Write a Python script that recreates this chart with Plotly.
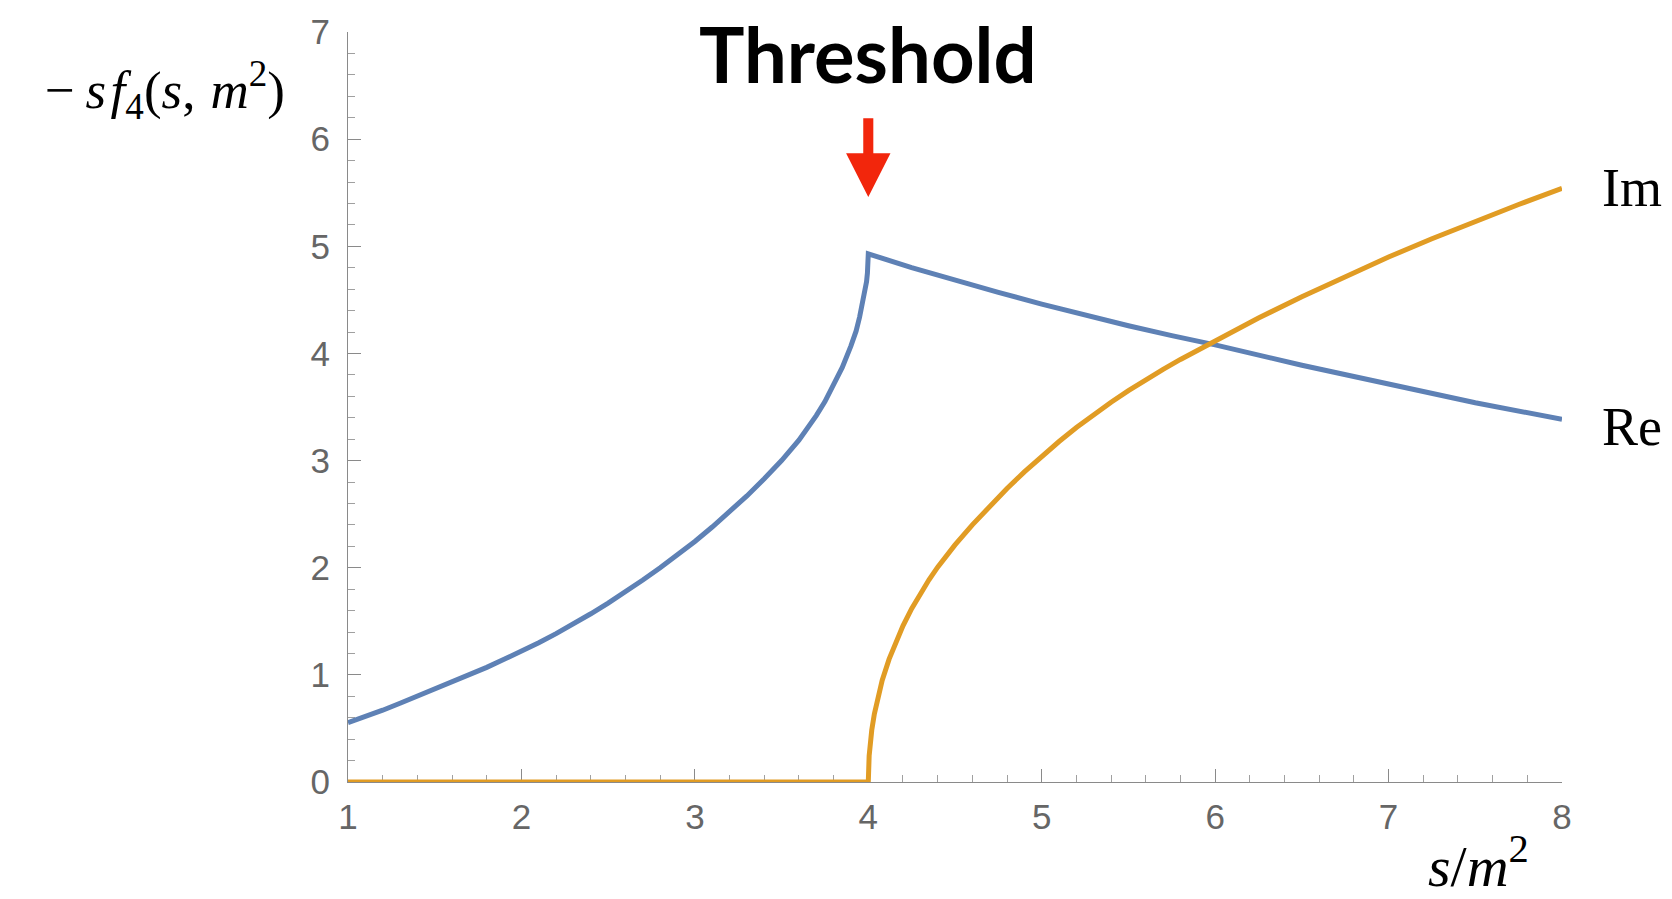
import plotly.graph_objects as go

# Threshold position (s/m^2) and curve samples
threshold_s = 4.0

re_s = [1.0, 1.1, 1.2, 1.3, 1.4, 1.5, 1.6, 1.7, 1.8, 1.9, 2.0, 2.1, 2.2, 2.3,
        2.4, 2.5, 2.6, 2.7, 2.8, 2.9, 3.0, 3.1, 3.2, 3.3, 3.4, 3.5, 3.6, 3.65,
        3.7, 3.75, 3.8, 3.85, 3.9, 3.93, 3.95, 3.97, 3.98, 3.99, 3.995, 3.999,
        4.0, 4.25, 4.5, 4.75, 5.0, 5.25, 5.5, 5.75, 6.0, 6.5, 7.0, 7.5, 8.0]
re_vals = [0.555, 0.61, 0.67, 0.735, 0.80, 0.865, 0.93, 1.0, 1.07, 1.145, 1.22,
           1.30, 1.385, 1.475, 1.57, 1.67, 1.775, 1.885, 2.00, 2.12, 2.245,
           2.38, 2.52, 2.67, 2.83, 3.00, 3.19, 3.30, 3.42, 3.55, 3.70, 3.87,
           4.07, 4.21, 4.34, 4.48, 4.56, 4.67, 4.75, 4.84,
           4.93, 4.80, 4.68, 4.57, 4.46, 4.357, 4.258, 4.166, 4.08, 3.89, 3.71,
           3.54, 3.385]

im_s = [1.0, 4.0, 4.005, 4.01, 4.02, 4.035, 4.05, 4.08, 4.12, 4.16, 4.2, 4.25,
        4.3, 4.35, 4.4, 4.45, 4.5, 4.6, 4.7, 4.8, 4.9, 5.0, 5.1, 5.2, 5.3, 5.4,
        5.5, 5.6, 5.7, 5.8, 5.9, 6.0, 6.25, 6.5, 6.75, 7.0, 7.25, 7.5, 7.75, 8.0]
im_vals = [0.0, 0.0, 0.244, 0.344, 0.484, 0.636, 0.758, 0.947, 1.147, 1.312,
           1.458, 1.618, 1.758, 1.887, 2.005, 2.113, 2.213, 2.40, 2.575, 2.74,
           2.895, 3.04, 3.178, 3.308, 3.43, 3.545, 3.653, 3.755, 3.852, 3.944,
           4.032, 4.12, 4.33, 4.53, 4.72, 4.90, 5.07, 5.235, 5.39, 5.54]

x_ticks = [1, 2, 3, 4, 5, 6, 7, 8]
y_ticks = [0, 1, 2, 3, 4, 5, 6, 7]

BLUE = "#5E81B5"
ORANGE = "#E19C24"
RED = "#F2260C"
AXIS = "#8a8a8a"
TICKFONT = dict(family="Liberation Sans, Arial, sans-serif", size=35, color="#666666")
SERIF = "Liberation Serif, Times New Roman, serif"

fig = go.Figure()
fig.add_trace(go.Scatter(x=re_s, y=re_vals, mode="lines",
                         line=dict(color=BLUE, width=5), name="Re",
                         showlegend=False))
fig.add_trace(go.Scatter(x=im_s, y=im_vals, mode="lines",
                         line=dict(color=ORANGE, width=5), name="Im",
                         showlegend=False))

axis_common = dict(
    showgrid=False, zeroline=False, showline=True, linecolor=AXIS, linewidth=1.3,
    ticks="inside", tickcolor=AXIS, tickwidth=1.2, tickfont=TICKFONT,
    layer="below traces",
)

fig.update_xaxes(range=[1, 8], tickvals=x_ticks, ticklen=13,
                 ticklabelstandoff=4,
                 minor=dict(dtick=0.2, ticks="inside", ticklen=7,
                            tickcolor="#a0a0a0", tickwidth=1.2),
                 **axis_common)
fig.update_yaxes(range=[0, 7], tickvals=y_ticks, ticklen=13,
                 ticklabelstandoff=10,
                 minor=dict(dtick=0.2, ticks="inside", ticklen=7,
                            tickcolor="#a0a0a0", tickwidth=1.2),
                 **axis_common)

# Red arrow pointing down at the threshold
shaft_half, head_half = 0.029, 0.128
shaft_top, head_base, tip = 6.195, 5.868, 5.459
arrow_path = (
    f"M {threshold_s - shaft_half} {shaft_top} "
    f"L {threshold_s + shaft_half} {shaft_top} "
    f"L {threshold_s + shaft_half} {head_base} "
    f"L {threshold_s + head_half} {head_base} "
    f"L {threshold_s} {tip} "
    f"L {threshold_s - head_half} {head_base} "
    f"L {threshold_s - shaft_half} {head_base} Z"
)
fig.add_shape(type="path", path=arrow_path, xref="x", yref="y",
              fillcolor=RED, line=dict(width=0), layer="above")

annotations = [
    dict(text="<b>Threshold</b>", x=threshold_s, y=6.80, xref="x", yref="y",
         yanchor="middle", showarrow=False,
         font=dict(family="Lato, sans-serif", size=76, color="black")),
    dict(text="\u2212&#8201;<i>s</i>&#8202;<i>f</i><sub>4</sub>(<i>s</i>,&#8201;&#8202;"
              "<i>m</i><sup>2</sup>)",
         x=-0.0503, y=0.922, xref="paper", yref="paper",
         xanchor="right", yanchor="middle", showarrow=False,
         font=dict(family=SERIF, size=53, color="black")),
    dict(text="<i>s</i>/<i>m</i><sup>2</sup>", x=0.9316, y=-0.107,
         xref="paper", yref="paper", xanchor="center", yanchor="middle",
         showarrow=False, font=dict(family=SERIF, size=58, color="black")),
    dict(text="Im", x=1.0, y=im_vals[-1], xref="paper", yref="y",
         xanchor="left", yanchor="middle", xshift=38, showarrow=False,
         font=dict(family=SERIF, size=54, color="black")),
    dict(text="Re", x=1.0, y=re_vals[-1], xref="paper", yref="y",
         xanchor="left", yanchor="middle", xshift=38, yshift=-8, showarrow=False,
         font=dict(family=SERIF, size=54, color="black")),
]
fig.update_layout(
    width=1672, height=899,
    margin=dict(l=348, r=110, t=32, b=117, autoexpand=False),
    paper_bgcolor="white", plot_bgcolor="white",
    annotations=annotations,
)

fig.write_html("out.html")
